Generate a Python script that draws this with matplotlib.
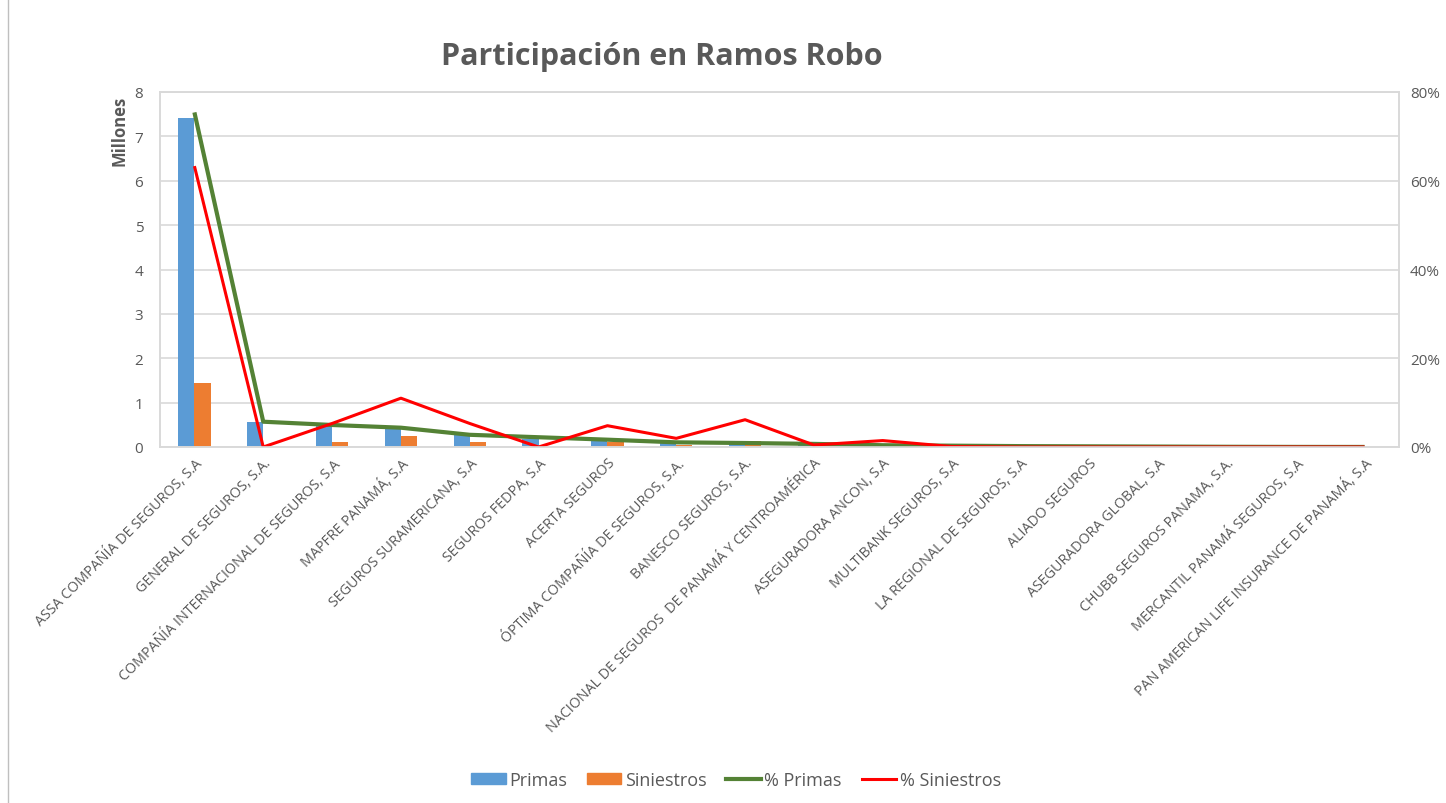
import matplotlib.pyplot as plt
import numpy as np
from matplotlib.ticker import FuncFormatter
from matplotlib.lines import Line2D

plt.rcParams["font.family"] = ["Open Sans", "DejaVu Sans"]

companies = [
    "ASSA COMPAÑÍA DE SEGUROS, S.A",
    "GENERAL DE SEGUROS, S.A.",
    "COMPAÑÍA INTERNACIONAL DE SEGUROS, S.A",
    "MAPFRE PANAMÁ, S.A",
    "SEGUROS SURAMERICANA, S.A",
    "SEGUROS FEDPA, S.A",
    "ACERTA SEGUROS",
    "ÓPTIMA COMPAÑÍA DE SEGUROS, S.A.",
    "BANESCO SEGUROS, S.A.",
    "NACIONAL DE SEGUROS  DE PANAMÁ Y CENTROAMÉRICA",
    "ASEGURADORA ANCON, S.A",
    "MULTIBANK SEGUROS, S.A",
    "LA REGIONAL DE SEGUROS, S.A",
    "ALIADO SEGUROS",
    "ASEGURADORA GLOBAL, S.A",
    "CHUBB SEGUROS PANAMA, S.A.",
    "MERCANTIL PANAMÁ SEGUROS, S.A",
    "PAN AMERICAN LIFE INSURANCE DE PANAMÁ, S.A",
]

# millions
primas = [7.42, 0.556, 0.495, 0.42, 0.27, 0.18, 0.16, 0.10, 0.09, 0.07,
          0.04, 0.03, 0.02, 0.015, 0.01, 0.005, 0.002, 0.001]
siniestros = [1.45, 0.0, 0.12, 0.25, 0.12, 0.0, 0.11, 0.045, 0.14, 0.01,
              0.033, 0.002, 0.0, 0.0, 0.0, 0.0, 0.0, 0.0]
# shares in %
pct_primas = [75.4, 5.7, 4.96, 4.35, 2.75, 2.2, 1.65, 1.05, 0.9, 0.7,
              0.4, 0.3, 0.2, 0.15, 0.1, 0.05, 0.02, 0.01]
pct_siniestros = [63.3, 0.0, 5.3, 11.0, 5.3, 0.0, 4.8, 1.95, 6.15, 0.45,
                  1.45, 0.1, 0.0, 0.0, 0.0, 0.0, 0.0, 0.0]

text_color = "#595959"
grid_color = "#d9d9d9"

fig = plt.figure(figsize=(14.46, 8.04), dpi=100)
ax = fig.add_axes([160 / 1446, 1 - 448 / 804, (1399 - 160) / 1446, (448 - 93) / 804])
ax2 = ax.twinx()

x = np.arange(len(companies))
w = 0.235
ax.bar(x - w / 2, primas, width=w, color="#5B9BD5", zorder=2)
ax.bar(x + w / 2, siniestros, width=w, color="#ED7D31", zorder=2)

ax2.plot(x, pct_primas, color="#548235", linewidth=3, solid_capstyle="butt")
ax2.plot(x, pct_siniestros, color="#FF0000", linewidth=2.2, solid_capstyle="butt")

ax.set_xlim(-0.5, len(companies) - 0.5)
ax.set_ylim(0, 8)
ax2.set_ylim(0, 80)
ax.set_yticks(range(0, 9))
ax2.set_yticks(range(0, 81, 20))
ax2.yaxis.set_major_formatter(FuncFormatter(lambda v, p: f"{v:.0f}%"))

ax.grid(axis="y", color=grid_color, linewidth=1.2, zorder=0)
ax.set_axisbelow(True)
for a in (ax, ax2):
    for s in a.spines.values():
        s.set_color(grid_color)
        s.set_linewidth(1.2)
    a.tick_params(length=0, colors=text_color, labelsize=11)

ax.set_xticks(x)
ax.set_xticklabels(companies, rotation=45, ha="right", rotation_mode="anchor",
                   fontsize=10.3, color=text_color)
ax.tick_params(axis="x", pad=6)
ax.tick_params(axis="y", pad=12)
ax2.tick_params(axis="y", pad=8)

fig.text(120 / 1446, 1 - 131 / 804, "Millones", rotation=90, ha="center", va="center",
         fontsize=12, fontweight="bold", color=text_color)
fig.text(662 / 1446, 1 - 57 / 804, "Participación en Ramos Robo", ha="center", va="center",
         fontsize=22, fontweight="bold", color=text_color)

handles = [
    plt.Rectangle((0, 0), 1, 1, color="#5B9BD5"),
    plt.Rectangle((0, 0), 1, 1, color="#ED7D31"),
    Line2D([], [], color="#548235", linewidth=3),
    Line2D([], [], color="#FF0000", linewidth=2.2),
]
fig.legend(handles, ["Primas", "Siniestros", "% Primas", "% Siniestros"],
           loc="center", bbox_to_anchor=(736 / 1446, 1 - 781 / 804), ncol=4,
           frameon=False, fontsize=13, handlelength=1.9, handleheight=0.5,
           handletextpad=0.2, columnspacing=1.1, labelcolor=text_color)

fig.add_artist(Line2D([8 / 1446, 8 / 1446], [0, 1], transform=fig.transFigure,
                      color="#bfbfbf", linewidth=1))

fig.savefig("out.png", dpi=100)
